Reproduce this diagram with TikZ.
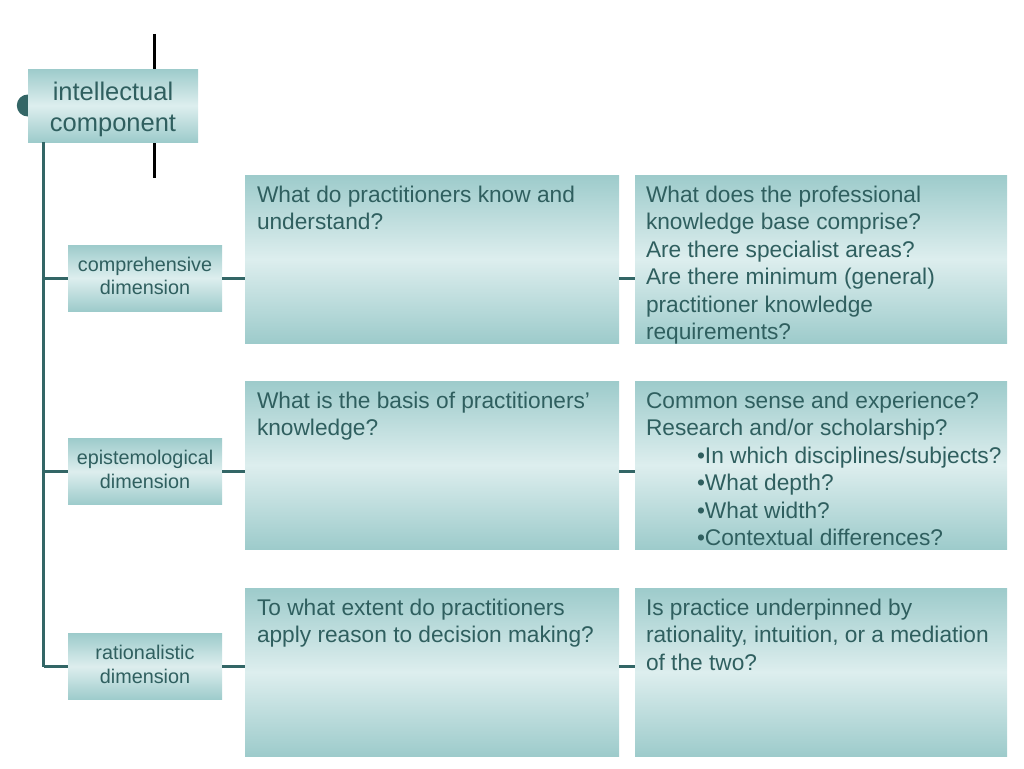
\documentclass[tikz,border=0pt]{standalone}
\usepackage{fontspec}
\setmainfont{Liberation Sans}
\usetikzlibrary{calc}
\definecolor{boxedge}{HTML}{9DCBCB}
\definecolor{boxmid}{HTML}{DDEEEE}
\definecolor{inktext}{HTML}{2F5F5F}
\definecolor{branch}{HTML}{336666}
\newcommand{\qstrut}{\rule{0pt}{20pt}}

\begin{document}
\begin{tikzpicture}[x=1pt,y=-1pt,
	panel/.style={rectangle,inner sep=0pt,top color=boxedge,bottom color=boxedge,middle color=boxmid,text=inktext},
	branchline/.style={line width=3pt,branch},
	qtext/.style={anchor=north west,inner sep=0pt,align=left,text=inktext,font=\fontsize{22.7}{27.5}\selectfont}]
\useasboundingbox (0,0) rectangle (1024,768);

% black bar behind the top box
\coordinate (barTop) at (154,34);
\coordinate (barBot) at (154,178);
\draw[line width=3pt,black] (barTop) -- (barBot);

\node[panel,minimum width=170pt,minimum height=73pt,align=center,font=\fontsize{25.5}{31}\selectfont] (Intel) at (113,105.5) {\rule{0pt}{26pt}intellectual\\component};
\fill[branch] (Intel.west) ++(0,11) arc[start angle=270,end angle=90,radius=11pt] -- cycle;
\coordinate (Trunk) at ($(Intel.south west)+(16,0)$);

\foreach \n/\y/\top/\lbl in {1/278/175/{comprehensive\\dimension}, 2/471.5/381/{epistemological\\dimension}, 3/666.5/588/{rationalistic\\dimension}}
	{
	\node[panel,minimum width=154pt,minimum height=66pt,align=center,font=\fontsize{19.8}{23.5}\selectfont] (Dim\n) at (145,\y) {\lbl\rule[-4pt]{0pt}{4pt}};
	\node[panel,minimum width=374pt,minimum height=168pt] (Ask\n) at (432,\top+84) {};
	\node[panel,minimum width=372pt,minimum height=168pt] (Probe\n) at (821,\top+84) {};
	\draw[branchline] (Trunk |- Dim\n.west) -- (Dim\n.west);
	\draw[branchline] (Dim\n.east) -- (Ask\n.west |- Dim\n.east);
	\draw[branchline] (Ask\n.east |- Dim\n.east) -- (Probe\n.west |- Dim\n.east);
	}
\draw[branchline] (Trunk) -- (Trunk |- Dim3.west);

% question texts
\node[qtext] (AskText1) at ($(Ask1.north west)+(12,7)$) {\qstrut What do practitioners know and\\understand?};
\node[qtext] (ProbeText1) at ($(Probe1.north west)+(11,7)$) {\qstrut What does the professional\\knowledge base comprise?\\Are there specialist areas?\\Are there minimum (general)\\practitioner knowledge\\requirements?};
\node[qtext] (AskText2) at ($(Ask2.north west)+(12,7)$) {\qstrut What is the basis of practitioners’\\knowledge?};
\node[qtext] (ProbeText2) at ($(Probe2.north west)+(11,7)$) {\qstrut Common sense and experience?\\Research and/or scholarship?\\\hspace*{51pt}•In which disciplines/subjects?\\\hspace*{51pt}•What depth?\\\hspace*{51pt}•What width?\\\hspace*{51pt}•Contextual differences?};
\node[qtext] (AskText3) at ($(Ask3.north west)+(12,7)$) {\qstrut To what extent do practitioners\\apply reason to decision making?};
\node[qtext] (ProbeText3) at ($(Probe3.north west)+(11,7)$) {\qstrut Is practice underpinned by\\rationality, intuition, or a mediation\\of the two?};
\end{tikzpicture}
\end{document}
